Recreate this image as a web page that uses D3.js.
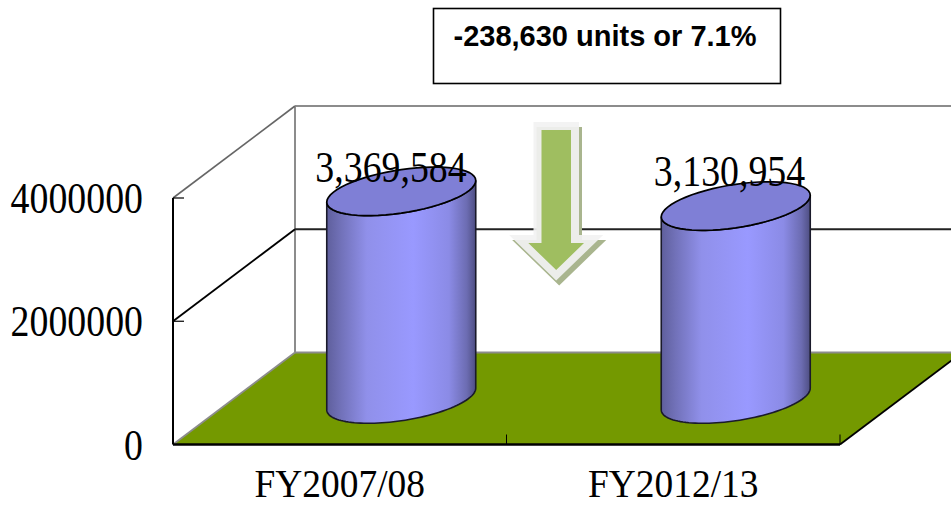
<!DOCTYPE html>
<html><head><meta charset="utf-8">
<script src="https://cdn.jsdelivr.net/npm/d3@7"></script>
<style>html,body{margin:0;padding:0;background:#fff}svg{display:block}</style>
</head><body><svg id="c" width="951" height="506"></svg>
<script>
const categories = ["FY2007/08", "FY2012/13"];
const values = [3369584, 3130954];
const valueLabels = ["3,369,584", "3,130,954"];
const yTicks = [0, 2000000, 4000000];
const note = "-238,630 units or 7.1%";

const W = 951, H = 506;
const left = 173, right = 840, dx = 122, dy = -92;
const svg = d3.select("#c").attr("viewBox", `0 0 ${W} ${H}`);
const x = d3.scaleBand().domain(categories).range([left, right]);
const y = d3.scaleLinear().domain([0, 4000000]).range([444.5, 198]);
const grey = "#8c8c8c";

const defs = svg.append("defs");
const grad = defs.append("linearGradient").attr("id", "cyl");
[[0, "#5f5f9c"], [0.1, "#7272ba"], [0.27, "#9090ea"], [0.58, "#9999ff"], [0.82, "#8b8be6"], [0.94, "#6c6cb2"], [1, "#4e4e82"]]
  .forEach(([o, c]) => grad.append("stop").attr("offset", o).attr("stop-color", c));
defs.append("clipPath").attr("id", "page").append("rect").attr("width", W).attr("height", H);

const g = svg.append("g").attr("clip-path", "url(#page)");
const seg = (a, b, c, d, col, w) => g.append("line").attr("x1", a).attr("y1", b).attr("x2", c).attr("y2", d)
  .attr("stroke", col).attr("stroke-width", w);

// floor
g.append("path").attr("fill", "#749900")
  .attr("d", d3.line()([[left, y(0)], [right, y(0)], [right + dx, y(0) + dy], [left + dx, y(0) + dy]]) + "Z");
seg(left, y(0), left + dx, y(0) + dy, grey, 1.8);
seg(left + dx, y(0) + dy, W, y(0) + dy, grey, 1.8);
seg(right, y(0), right + dx, y(0) + dy, "#000", 1.8);

// walls and gridlines
seg(left + dx, y(0) + dy, left + dx, y(4000000) + dy, grey, 2);
seg(left + dx, y(4000000) + dy, W, y(4000000) + dy, grey, 2);
seg(left, y(4000000), left + dx, y(4000000) + dy, "#666", 1.6);
seg(left, y(2000000), left + dx, y(2000000) + dy, "#000", 1.9);
seg(left + dx, y(2000000) + dy, W, y(2000000) + dy, "#222", 2);

// axes
seg(left, y(4000000), left, y(0), "#000", 2);
seg(left, y(0), right, y(0), "#000", 2.4);
yTicks.slice(1).forEach(t => seg(left, y(t), left + 11, y(t), "#000", 1.2));
categories.forEach(c => seg(x(c) + x.bandwidth(), y(0), x(c) + x.bandwidth(), y(0) - 10, "#000", 1));

const txt = (s, px, py, size, sx, anchor) => g.append("text")
  .attr("transform", `translate(${px},${py}) scale(${sx},1)`)
  .attr("text-anchor", anchor).attr("font-family", "'Liberation Serif'").attr("font-size", size)
  .attr("fill", "#000").text(s);

yTicks.forEach(t => txt(d3.format("d")(t), 143, y(t) + 15, 44, 0.86, "end"));
categories.forEach(c => txt(c, x(c) + x.bandwidth() / 2, 497, 41, 0.913, "middle"));

// cylinders
const hw = 74.5, hh = 24.3, skew = -10.8, midX = dx / 2, midY = dy / 2;
const ring = (cx, cy, from, to) => d3.range(0, 61).map(i => {
  const t = from + (to - from) * i / 60;
  return [cx + hw * Math.cos(t), cy + Math.sqrt(hh * hh - skew * skew) * Math.sin(t) + skew * Math.cos(t)];
});
const ln = d3.line();
const labelBaselines = [182, 186], labelCenters = [391, 729.5], cylNudge = [0.5, 1.5];
categories.forEach((c, i) => {
  const cx = x(c) + x.bandwidth() / 2 + midX + cylNudge[i];
  const yb = y(0) + midY + 0.5, yt = y(values[i]) + midY + 0.5;
  const body = ln(ring(cx, yb, 0, Math.PI)) + "L" + ln(ring(cx, yt, Math.PI, 0)).slice(1) + "Z";
  g.append("path").attr("d", body).attr("fill", "url(#cyl)").attr("stroke", "#1a1a2a").attr("stroke-width", 1.6);
  g.append("path").attr("d", ln(ring(cx, yt, 0, 2 * Math.PI)) + "Z").attr("fill", "#7f7fd6")
    .attr("stroke", "#000").attr("stroke-width", 1.7);
  txt(valueLabels[i], labelCenters[i], labelBaselines[i], 44, 0.86, "middle");
});

// arrow
const arrow = (ox, oy, grow) => d3.line()([
  [541.5 - grow + ox, 130 - grow + oy], [571 + grow + ox, 130 - grow + oy], [571 + grow + ox, 243 - grow + oy],
  [584 + grow * 2.4 + ox, 243 - grow + oy], [556.2 + ox, 270 + grow * 1.3 + oy], [528.3 - grow * 2.4 + ox, 243 - grow + oy],
  [541.5 - grow + ox, 243 - grow + oy]]) + "Z";
svg.append("path").attr("d", arrow(3, 5, 8)).attr("fill", "#a9b58e");
svg.append("path").attr("d", arrow(0, 0, 8)).attr("fill", "#f2f2f2").attr("fill-opacity", 0.92);
svg.append("path").attr("d", arrow(0, 0, 0)).attr("fill", "#9bbb59").attr("fill-opacity", 0.96);

// note box
svg.append("rect").attr("x", 433.5).attr("y", 8.5).attr("width", 347).attr("height", 75)
  .attr("fill", "#fff").attr("stroke", "#000").attr("stroke-width", 1.6);
svg.append("text").attr("x", 605).attr("y", 46).attr("text-anchor", "middle")
  .attr("font-family", "'Liberation Sans'").attr("font-weight", "bold").attr("font-size", 29).text(note);
</script></body></html>
